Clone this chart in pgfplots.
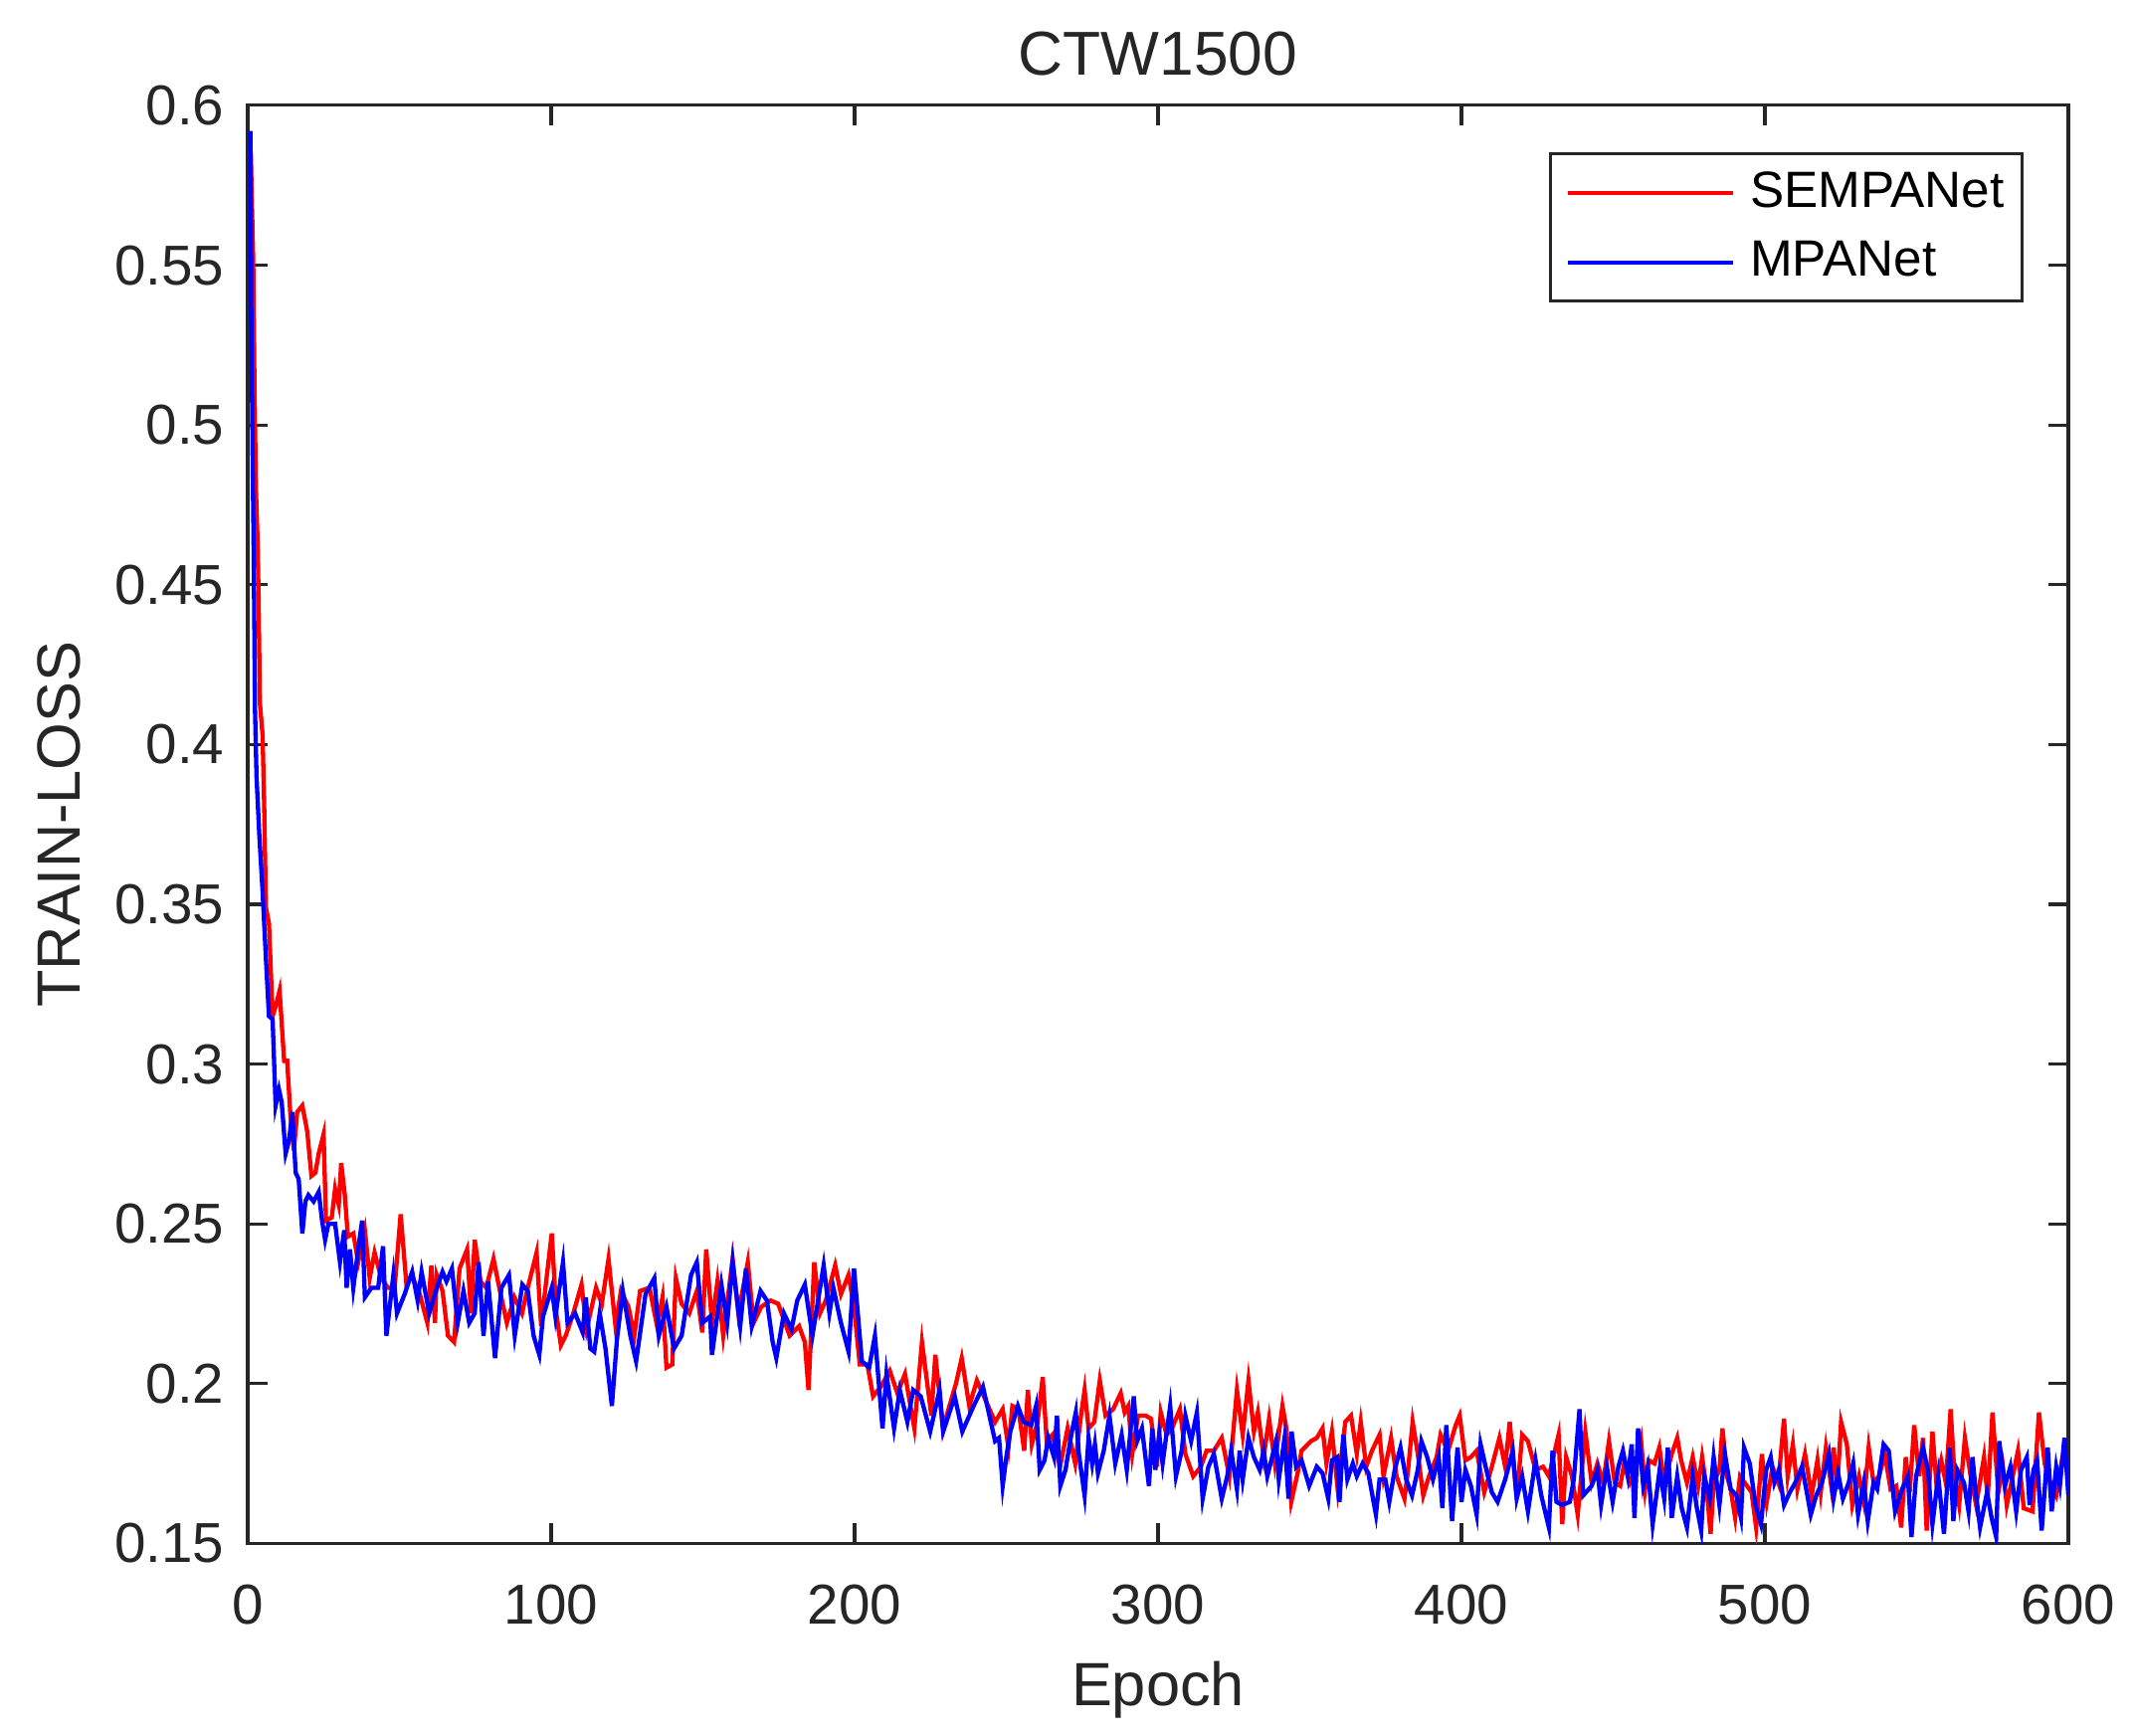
\documentclass[border=0pt]{standalone}
\usepackage{fontspec}
\setmainfont{Liberation Sans}
\usepackage{pgfplots}
\pgfplotsset{compat=1.18}
\definecolor{axgray}{rgb}{0.15,0.15,0.15}

\begin{document}
\begin{tikzpicture}
\begin{axis}[
  name=main,
  scale only axis,
  width=13.42cm, height=10.60cm,
  xmin=0, xmax=600, ymin=0.15, ymax=0.6,
  xtick={0,100,200,300,400,500,600},
  ytick={0.15,0.2,0.25,0.3,0.35,0.4,0.45,0.5,0.55,0.6},
  yticklabels={0.15,0.2,0.25,0.3,0.35,0.4,0.45,0.5,0.55,0.6},
  scaled ticks=false,
  /pgf/number format/assume math mode=true,
  tick align=inside,
  major tick length=0.147cm,
  axis line style={axgray, line width=0.65pt},
  every tick/.style={axgray, line width=0.65pt},
  tick label style={font=\fontsize{11.8}{13}\selectfont, text=axgray},
  xticklabel style={yshift=-0.18cm},
  yticklabel style={xshift=-0.05cm},
  title={CTW1500},
  title style={font=\fontsize{13}{15}\selectfont, text=axgray, yshift=-0.12cm},
  xlabel={Epoch},
  ylabel={TRAIN-LOSS},
  label style={font=\fontsize{12.8}{15}\selectfont, text=axgray},
  xlabel style={yshift=-0.03cm},
  ylabel style={yshift=0.01cm},
  legend style={at={(0.9754,0.9675)}, anchor=north east, draw=axgray,
    line width=0.65pt, font=\fontsize{10.7}{12}\selectfont, text=black,
    inner xsep=0.06cm, inner ysep=0.06cm, row sep=0.06cm},
  legend cell align=left,
  legend image code/.code={\path (-0.05cm,0cm) (1.26cm,0cm);
    \draw[#1] (0cm,0cm) -- (1.22cm,0cm);},
]
\addplot[red, line width=0.9pt] coordinates {
(1,0.585) (1.8,0.552) (2.2,0.514) (2.7,0.48) (3.3,0.462) (3.6,0.444) (4,0.413) (4.9,0.403) (5.4,0.382) (6,0.349) (7,0.344) (8.2,0.315) (9.2,0.318) (10.5,0.323) (12,0.301) (13,0.301) (14,0.285) (15.2,0.273) (16.3,0.285) (18,0.287) (19.6,0.279) (21,0.265) (22.3,0.266) (23.4,0.272) (25,0.278) (25.8,0.251) (27.7,0.252) (28.8,0.261) (30,0.256) (30.8,0.269) (32,0.259) (33,0.246) (34.8,0.247) (36.4,0.238) (38.6,0.248) (40.2,0.233) (41.8,0.241) (44,0.233) (46.2,0.230) (48.4,0.230)
(50.4,0.253) (52.3,0.231) (54,0.234) (56.7,0.228) (59.2,0.219) (60.5,0.237) (61.7,0.219) (62.3,0.234) (64.2,0.229) (66,0.215) (68,0.213) (69.8,0.236) (72.3,0.242) (73.6,0.222) (74.8,0.245) (76.7,0.232) (78.6,0.230) (81,0.239) (82.9,0.23) (85.4,0.219) (87.9,0.227) (90.4,0.222) (92.3,0.23) (95.2,0.241) (96.7,0.218) (98.6,0.234) (100.2,0.247) (101.7,0.222) (103.2,0.212) (104.8,0.215) (107.3,0.222) (110,0.231) (111.7,0.217) (114.8,0.23) (116.7,0.225) (118.9,0.239) (121.2,0.218) (123,0.229) (125.5,0.224) (127.4,0.215) (129.3,0.229) (132.4,0.23) (134.9,0.218) (136.7,0.227) (138,0.205) (139.9,0.206) (141.1,0.233) (143,0.225) (145.5,0.222) (148,0.229) (149.8,0.216) (151.1,0.242) (153,0.219) (154.8,0.232) (156.7,0.215) (159.8,0.239) (161.7,0.222) (164.8,0.238) (166.7,0.219) (169.2,0.224) (172.3,0.226) (174.8,0.225) (178.6,0.215) (181.7,0.218) (183.6,0.213) (184.8,0.198) (186.7,0.238) (188.6,0.222) (190.5,0.226) (193.6,0.237) (195.5,0.228) (198,0.234) (199.8,0.224) (201.7,0.206) (204.2,0.206) (206.1,0.196) (208.6,0.199) (211.6,0.204) (214.1,0.197) (216.6,0.203) (219.7,0.186) (222.2,0.213) (225.3,0.19) (226.6,0.209) (229.1,0.186) (233.4,0.2) (235.3,0.208) (237.8,0.193) (240.3,0.201)
(246.3,0.188) (248.8,0.192) (250.7,0.180) (252,0.193) (254,0.192) (255.9,0.179) (257.1,0.198) (258.4,0.181) (260.3,0.188) (262,0.202) (263.3,0.182) (265.2,0.184) (267.7,0.174) (270.2,0.186) (272.7,0.175) (274.6,0.190) (275.8,0.198) (277.1,0.186) (279,0.188) (280.8,0.201) (282.7,0.190) (285.2,0.192) (287.7,0.197) (289,0.191) (290.2,0.193) (291.5,0.178) (293.4,0.190) (295.9,0.190) (297.7,0.189) (299.6,0.174) (300.9,0.191) (302.8,0.184) (304.6,0.186) (307.2,0.192) (309,0.178) (311.6,0.171) (314.1,0.174) (316,0.179) (318.4,0.179) (321,0.183) (323.5,0.171) (326,0.198) (327.9,0.184) (329.8,0.201) (331.6,0.185) (332.9,0.191) (334.8,0.177) (336.6,0.189) (338.5,0.175) (341,0.193) (342.3,0.186) (343.9,0.163) (346,0.172) (347.3,0.179) (350.4,0.182) (352.3,0.183) (354.2,0.186) (355.5,0.175) (357.3,0.185) (359.2,0.167) (361.7,0.188) (363.6,0.190) (365.5,0.178) (366.8,0.188) (368.6,0.174) (370.5,0.179) (373,0.184) (374.3,0.171) (376.8,0.183) (378.6,0.171) (381.2,0.164) (382.4,0.173) (383.9,0.188) (385.6,0.178) (387.4,0.165) (389.3,0.171) (391.8,0.177) (393.1,0.184) (395.6,0.179) (398.1,0.187) (399.4,0.19) (401.3,0.176) (403.1,0.177) (405,0.179) (407.5,0.166) (410,0.174) (412.5,0.183) (414.4,0.174) (415.9,0.188) (418.2,0.164) (420,0.184) (421.9,0.182) (424.4,0.173) (426.9,0.174) (428.8,0.171) (432,0.184) (433.2,0.156) (434.5,0.177) (436.4,0.171) (438.3,0.159) (440.8,0.185)
(442.9,0.169) (444.8,0.175) (446.7,0.169) (448.6,0.182) (450.5,0.169) (452.3,0.168) (453.6,0.175) (455.5,0.169) (457.3,0.173) (459.2,0.182) (460.5,0.167) (461.7,0.176) (463.6,0.175) (465.2,0.18) (466.8,0.169) (469.3,0.178) (471.1,0.183) (472.4,0.176) (474.3,0.169) (476.2,0.177) (478,0.168) (479.3,0.177) (480.8,0.167) (482.1,0.153) (483.1,0.169) (485,0.173) (486,0.186) (487.5,0.171) (488.7,0.167) (490.2,0.158) (491.8,0.171) (494.1,0.168) (495.6,0.166) (497.1,0.155) (499,0.178) (500.6,0.163) (502.5,0.174) (504.4,0.169) (506.3,0.189) (507.5,0.171) (509.2,0.181) (510.7,0.167) (513.2,0.178) (515.4,0.165) (517.3,0.176) (518.4,0.166) (520.1,0.18) (521.7,0.169) (522.6,0.18) (523.8,0.167) (525.1,0.188) (527,0.181) (528.8,0.162) (531,0.171) (532.6,0.163) (534.2,0.18) (535.8,0.169) (537.6,0.171) (539.5,0.178) (541.4,0.167) (543.3,0.168) (544.9,0.155) (546.4,0.177) (547.7,0.166) (549.2,0.187) (550.8,0.171) (552.1,0.183) (553.3,0.154) (555.2,0.185) (556.5,0.169) (558.1,0.176) (559.6,0.169) (561.2,0.192) (562.5,0.171) (564,0.162) (565.9,0.183) (567.8,0.171) (569.6,0.162) (572.2,0.177) (573.4,0.164) (575,0.191) (576.9,0.166) (578.4,0.174) (579.7,0.162) (583.4,0.179) (585.3,0.161) (588.2,0.16) (590.3,0.191) (592.2,0.175) (594.1,0.169) (596,0.165) (597.9,0.176) (600,0.175)
};
\addlegendentry{SEMPANet}
\addplot[blue, line width=0.9pt] coordinates {
(0.9,0.592) (1.2,0.532) (1.6,0.491) (2,0.457) (2.4,0.411) (2.9,0.39) (3.8,0.372) (4.9,0.354) (6,0.333) (7,0.315) (8.2,0.314) (9.2,0.287) (10.3,0.292) (11.2,0.288) (12.5,0.272) (13.6,0.276) (14.7,0.285) (15.8,0.266) (16.8,0.264) (18,0.247) (19,0.257) (20,0.259) (21.7,0.257) (23.4,0.26) (24.5,0.251) (25.5,0.245) (26.6,0.25) (28.8,0.25) (30.4,0.238) (31.8,0.248) (32.6,0.23) (33.7,0.242) (34.8,0.23) (36.4,0.242) (37.7,0.251) (38.6,0.227) (40.8,0.23) (43,0.23) (44.6,0.243) (45.7,0.215) (48,0.234)
(49.2,0.222) (51.7,0.228) (54.2,0.235) (56,0.226) (57.3,0.235) (59.8,0.222) (62.3,0.23) (64.2,0.235) (65.5,0.232) (67.3,0.236) (69.2,0.219) (71.1,0.229) (73,0.219) (74.8,0.222) (76.1,0.238) (77.7,0.215) (79.2,0.232) (81.5,0.208) (83.6,0.23) (86.1,0.234) (88,0.215) (90.5,0.231) (92.3,0.229) (94.2,0.215) (96.1,0.209) (97.3,0.221) (100.2,0.23) (101.4,0.221) (103.9,0.238) (105.4,0.219) (107.9,0.222) (110.4,0.216) (111.4,0.227) (112.9,0.211) (114.2,0.21) (116,0.222) (117.9,0.211) (120,0.193) (121.7,0.214) (123.6,0.229) (126.1,0.215) (128,0.207) (131.1,0.228) (134,0.233) (135.5,0.215) (138,0.224) (140.5,0.211) (143,0.215) (146.1,0.234) (148,0.238) (149.8,0.219) (152.4,0.221) (153,0.209) (156.1,0.231) (158,0.219) (159.8,0.238) (162.3,0.218) (164.2,0.236) (166.1,0.218) (169,0.229) (171.1,0.226) (173,0.213) (174.2,0.208) (176.7,0.222) (179.2,0.217) (181.1,0.226) (183.6,0.231) (186.1,0.215) (189.8,0.237) (191.7,0.222) (193,0.23) (195.5,0.219) (198,0.21) (199.8,0.236) (202.4,0.207) (204.8,0.205) (206.7,0.215) (209.2,0.186) (210.5,0.203) (213,0.186) (214.9,0.198) (217.4,0.188) (219.3,0.198) (221.8,0.196) (224.9,0.185) (228,0.198) (229.2,0.185) (233,0.196) (235.5,0.185) (239.2,0.193) (242.3,0.199)
(246.3,0.182) (247.6,0.183) (248.8,0.168) (250,0.177) (251.3,0.185) (253.8,0.193) (255.7,0.188) (258.2,0.187) (259.8,0.193) (261,0.173) (262.6,0.176) (263.8,0.183) (265.7,0.177) (266.7,0.190) (267.8,0.168) (269.5,0.173) (271.4,0.184) (272.9,0.191) (273.9,0.178) (275.8,0.165) (277.1,0.183) (278.3,0.175) (279.2,0.181) (280.2,0.172) (282.1,0.179) (284,0.19) (285.9,0.175) (288,0.184) (289.7,0.173) (292,0.196) (293.1,0.182) (294.7,0.186) (297,0.168) (298.1,0.186) (299.1,0.173) (300.4,0.184) (301.5,0.175) (304,0.193) (305.9,0.171) (307.8,0.179) (309,0.19) (310.9,0.182) (312.8,0.191) (314.7,0.164) (316.6,0.174) (318.4,0.178) (321,0.164) (322.8,0.171) (324.1,0.179) (326,0.167) (326.9,0.179) (327.9,0.170) (329.8,0.183) (331.6,0.177) (333.5,0.173) (334.8,0.179) (336,0.171) (338.9,0.182) (339.8,0.170) (341.7,0.183) (343,0.164) (344,0.185) (345.5,0.174) (347.3,0.176) (349.8,0.168) (352.3,0.174) (354.2,0.172) (356.1,0.164) (357.3,0.176) (359,0.177) (359.8,0.163) (361.1,0.184) (362.4,0.170) (364.2,0.175) (365.5,0.171) (367.4,0.175) (369.3,0.172) (371.8,0.159) (373,0.170) (374.9,0.170) (376.2,0.163) (378,0.173) (379.9,0.180) (381.8,0.170) (383.7,0.165) (385.6,0.173) (386.8,0.182) (388.7,0.177) (390.6,0.170) (392.5,0.177) (393.7,0.161) (395,0.187) (396.9,0.157) (398.7,0.180) (400,0.163) (401.3,0.173) (403.1,0.168) (405,0.159) (406.3,0.181) (408.2,0.173) (410,0.166) (411.9,0.163) (414.4,0.170) (416.9,0.179) (418.2,0.164) (420,0.171) (421.9,0.160) (424.4,0.176) (426.3,0.165) (428.8,0.155) (430,0.179) (431.3,0.163) (433.2,0.162) (435.7,0.163) (437,0.170) (438.9,0.192) (440.1,0.165)
(442.9,0.168) (444.8,0.173) (446,0.162) (447.9,0.174) (449.8,0.163) (451.7,0.174) (453.2,0.179) (454.8,0.171) (456.1,0.181) (457,0.158) (458.2,0.186) (459.9,0.168) (461.4,0.174) (463,0.156) (465.3,0.173) (466.8,0.164) (468,0.18) (469.3,0.158) (471.1,0.171) (472.6,0.161) (474.3,0.155) (476.2,0.171) (477.4,0.162) (479,0.154) (480,0.171) (481.8,0.164) (483.1,0.177) (485,0.162) (486.8,0.178) (488.7,0.167) (490.6,0.165) (492.1,0.158) (493.1,0.18) (495,0.175) (496.9,0.162) (498.7,0.156) (500.4,0.173) (501.9,0.177) (503.1,0.169) (504.6,0.173) (506.3,0.162) (508.2,0.166) (510,0.169) (512.2,0.174) (513.8,0.166) (515.1,0.159) (516.9,0.165) (518.8,0.169) (521.1,0.178) (522.6,0.164) (524.1,0.172) (525.7,0.164) (527.6,0.169) (529.1,0.175) (530.7,0.159) (532.6,0.169) (533.9,0.157) (535.8,0.169) (537,0.167) (539.1,0.181) (540.8,0.179) (542.9,0.16) (545.2,0.167) (547.1,0.171) (548.3,0.152) (549.8,0.171) (552.1,0.18) (553.7,0.173) (555.2,0.156) (557.1,0.171) (559,0.153) (560.9,0.18) (562.1,0.157) (563.4,0.173) (565.6,0.169) (567.1,0.16) (568.4,0.177) (569.6,0.165) (570.9,0.155) (573.2,0.166) (574.7,0.158) (576.2,0.152) (577.2,0.182) (579.1,0.168) (580.9,0.174) (582.8,0.16) (584.4,0.173) (586.3,0.177) (587.2,0.162) (588.5,0.173) (589.7,0.176) (591.2,0.154) (593.2,0.18) (594.5,0.16) (596,0.174) (597.2,0.168) (598.7,0.183) (600,0.165)
};
\addlegendentry{MPANet}
\end{axis}
\pgfresetboundingbox
\path (main.south west) ++(-1.826cm,-1.415cm) coordinate (bbA);
\path (main.north east) ++(0.484cm,0.777cm) coordinate (bbB);
\useasboundingbox (bbA) rectangle (bbB);
\end{tikzpicture}
\end{document}
